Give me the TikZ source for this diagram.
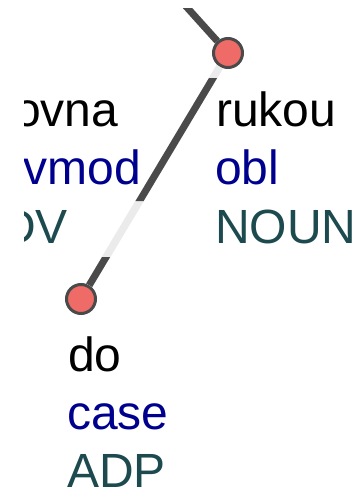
\documentclass[tikz,border=0pt]{standalone}
\usepackage{fontspec}
\setmainfont{Liberation Sans}
\usetikzlibrary{positioning}

\definecolor{tokred}{HTML}{EE6B67}
\definecolor{edgegray}{HTML}{4A4A4A}
\definecolor{halogray}{HTML}{EBEBEB}
\definecolor{deprel}{HTML}{00008F}
\definecolor{upos}{HTML}{1C4A4E}

\tikzset{
  tok/.style={circle, fill=tokred, draw=edgegray, line width=3pt,
    minimum size=29pt, inner sep=0pt},
  arc/.style={line width=7pt, edgegray},
  halo/.style={line width=7.5pt, halogray},
  word/.style={font=\fontsize{48}{58}\selectfont, inner sep=0pt, anchor=base west},
  lword/.style={word, anchor=base east},
}

\begin{document}
\begin{tikzpicture}[x=1pt, y=-1pt]
    \useasboundingbox (0,0) rectangle (364,493);
    \clip (24,8) rectangle (364,493);

    % Tokens
    \node[tok] (rukou) at (228,53) {};
    \node[tok] (do) at (81,299) {};
    \coordinate (head) at (147,-37);

    % Left column (cut off)
    \node[lword] (w-ovna) at (118.5,126) {ovna};
    \node[lword, deprel] (r-ovna) at (141,184.5) {vmod};
    \node[lword, upos] (p-ovna) at (68,243) {DV};

    % rukou
    \node[word] (w-rukou) at (216,126) {rukou};
    \node[word, deprel] (r-rukou) at (215,184.5) {obl};
    \node[word, upos] (p-rukou) at (215,243) {NOUN};

    % do
    \node[word] (w-do) at (68,371) {do};
    \node[word, deprel] (r-do) at (67,429) {case};
    \node[word, upos] (p-do) at (67,487) {ADP};

    % Arcs
    \draw[arc] (head) -- (rukou);
    \draw[halo] (rukou) -- (do);
    \begin{scope}
        \clip (0,78) rectangle (364,201) (0,257) rectangle (364,300);
        \draw[arc] (rukou) -- (do);
    \end{scope}
\end{tikzpicture}
\end{document}
